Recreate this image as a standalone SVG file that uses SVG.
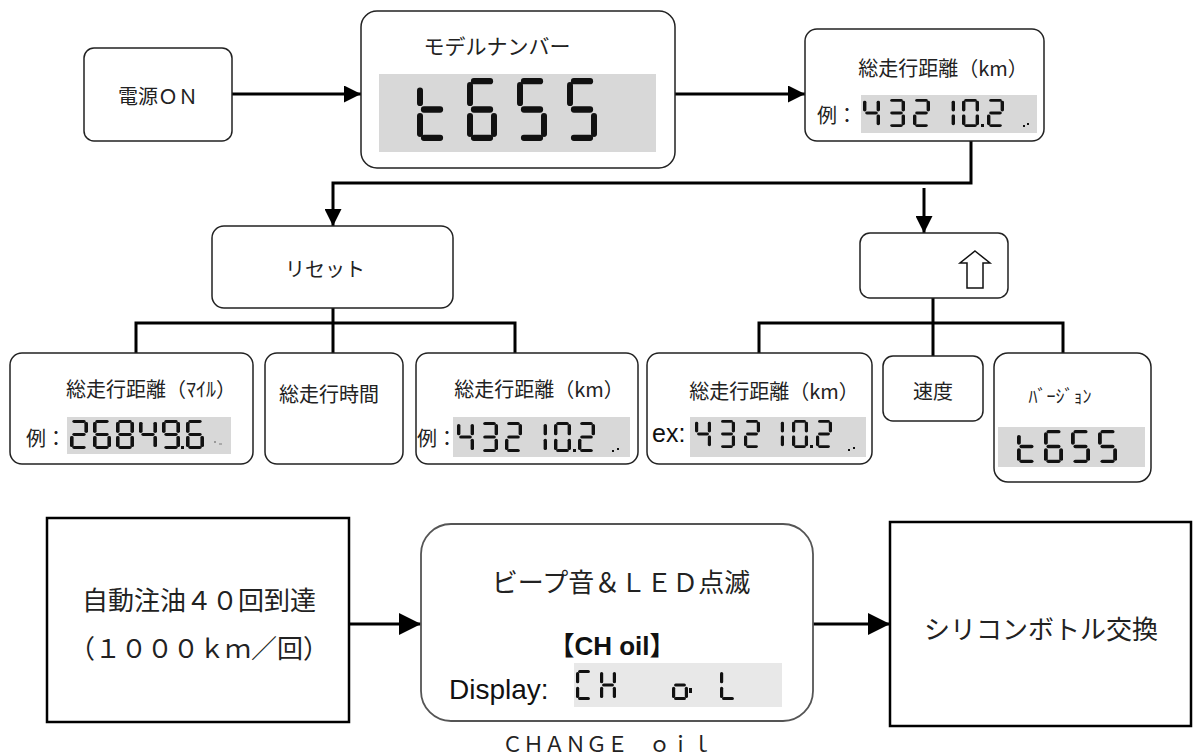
<svg xmlns="http://www.w3.org/2000/svg" width="1194" height="756" viewBox="0 0 1194 756">
<style>
.box{fill:#fff;stroke:#222;stroke-width:1.5}
.sq{fill:#fff;stroke:#000;stroke-width:2.5}
.lcd{fill:#d8d8d8}
.lcd2{fill:#e8e8e8}
.seg{fill:#111}
.wire{fill:none;stroke:#000;stroke-width:3}
.t{font-family:"Noto Sans CJK JP","Noto Sans CJK SC",sans-serif;fill:#222;dominant-baseline:central;text-anchor:middle;font-size:20px}
.big{font-size:26px}
.ar{font-family:"Liberation Sans","Noto Sans CJK JP",sans-serif;fill:#111}
</style>
<defs>
<marker id="ah" markerUnits="userSpaceOnUse" markerWidth="17" markerHeight="17" refX="17" refY="8.5" orient="auto"><path d="M0,0 L17,8.5 L0,17 z" fill="#000"/></marker>
<marker id="ahb" markerUnits="userSpaceOnUse" markerWidth="22" markerHeight="22" refX="22" refY="11" orient="auto"><path d="M0,0 L22,11 L0,22 z" fill="#000"/></marker>
<rect id="sa" x="1.3" y="0" width="7.4" height="2" rx="1"/>
<rect id="sb" x="8" y="1.3" width="2" height="7.6" rx="1"/>
<rect id="sc" x="8" y="11.1" width="2" height="7.6" rx="1"/>
<rect id="sd" x="1.3" y="18" width="7.4" height="2" rx="1"/>
<rect id="se" x="0" y="11.1" width="2" height="7.6" rx="1"/>
<rect id="sf" x="0" y="1.3" width="2" height="7.6" rx="1"/>
<rect id="sg" x="1.3" y="9" width="7.4" height="2" rx="1"/>
<rect id="sft" x="0" y="3" width="2" height="5.9" rx="1"/>
<g id="dt"><use href="#sft"/><use href="#se"/><use href="#sg"/><use href="#sd"/></g>
<g id="d0"><use href="#sa"/><use href="#sb"/><use href="#sc"/><use href="#sd"/><use href="#se"/><use href="#sf"/></g>
<g id="d1"><use href="#sb"/><use href="#sc"/></g>
<g id="d2"><use href="#sa"/><use href="#sb"/><use href="#sg"/><use href="#se"/><use href="#sd"/></g>
<g id="d3"><use href="#sa"/><use href="#sb"/><use href="#sg"/><use href="#sc"/><use href="#sd"/></g>
<g id="d4"><use href="#sf"/><use href="#sg"/><use href="#sb"/><use href="#sc"/></g>
<g id="d5"><use href="#sa"/><use href="#sf"/><use href="#sg"/><use href="#sc"/><use href="#sd"/></g>
<g id="d6"><use href="#sa"/><use href="#sf"/><use href="#sg"/><use href="#se"/><use href="#sd"/><use href="#sc"/></g>
<g id="d8"><use href="#sa"/><use href="#sb"/><use href="#sc"/><use href="#sd"/><use href="#se"/><use href="#sf"/><use href="#sg"/></g>
<g id="d9"><use href="#sa"/><use href="#sb"/><use href="#sc"/><use href="#sd"/><use href="#sf"/><use href="#sg"/></g>
<g id="dC"><use href="#sa"/><use href="#sf"/><use href="#se"/><use href="#sd"/></g>
<g id="dH"><use href="#sb"/><use href="#sc"/><use href="#se"/><use href="#sf"/><use href="#sg"/></g>
<g id="do"><use href="#sg"/><use href="#sc"/><use href="#sd"/><use href="#se"/></g>
<g id="dL"><use href="#sf"/><use href="#se"/><use href="#sd"/></g>
</defs>

<g id="connectors">
<line class="wire" x1="232" y1="94" x2="361" y2="94" marker-end="url(#ah)"/>
<line class="wire" x1="675" y1="94" x2="805" y2="94" marker-end="url(#ah)"/>
<path class="wire" d="M971,141 V183 H333 V226" marker-end="url(#ah)"/>
<path class="wire" d="M924,188 V233" marker-end="url(#ah)"/>
<path class="wire" d="M333,308 V353 M136,353 V323 H515 V353"/>
<path class="wire" d="M933,298 V356 M759,353 V323 H1063 V353"/>
<line class="wire" x1="349" y1="624" x2="421" y2="624" marker-end="url(#ahb)"/>
<line class="wire" x1="813" y1="624" x2="890" y2="624" marker-end="url(#ahb)"/>
</g>

<g id="power-on">
<rect class="box" x="84" y="48" width="148" height="93" rx="10"/>
<text class="t" x="158" y="95">電源ＯＮ</text>
</g>

<g id="model-number">
<rect class="box" x="361" y="11" width="314" height="157" rx="16"/>
<text class="t" x="497" y="45" style="font-size:21px">モデルナンバー</text>
<rect class="lcd" x="379" y="74" width="277" height="78"/>
<g class="seg">
<use href="#dt" transform="translate(417,78) scale(3,3.15)"/>
<use href="#d6" transform="translate(467,78) scale(3,3.15)"/>
<use href="#d5" transform="translate(517,78) scale(3,3.15)"/>
<use href="#d5" transform="translate(567,78) scale(3,3.15)"/>
</g>
</g>

<g id="odo-km">
<rect class="box" x="805" y="29" width="239" height="112" rx="12"/>
<text class="t" x="943" y="67">総走行距離（km）</text>
<text class="t" x="837" y="114">例：</text>
<rect class="lcd" x="861" y="95" width="176" height="38"/>
<g class="seg">
<use href="#d4" transform="translate(863,99) scale(1.7,1.4)"/>
<use href="#d3" transform="translate(888,99) scale(1.7,1.4)"/>
<use href="#d2" transform="translate(913,99) scale(1.7,1.4)"/>
<use href="#d1" transform="translate(938,99) scale(1.7,1.4)"/>
<use href="#d0" transform="translate(962,99) scale(1.7,1.4)"/>
<rect x="981" y="124" width="3" height="3"/>
<use href="#d2" transform="translate(987,99) scale(1.7,1.4)"/>
<rect x="1023" y="125" width="2" height="2"/><rect x="1027" y="123" width="2" height="2"/>
</g>
</g>

<g id="reset">
<rect class="box" x="212" y="226" width="241" height="82" rx="12"/>
<text class="t" x="325" y="268">リセット</text>
</g>

<g id="odo-mile">
<rect class="box" x="10" y="353" width="243" height="111" rx="12"/>
<text class="t" x="151" y="388">総走行距離（ﾏｲﾙ）</text>
<text class="t" x="46" y="437">例：</text>
<rect class="lcd" x="67" y="417" width="164" height="37"/>
<g class="seg">
<use href="#d2" transform="translate(70,420) scale(1.8,1.45)"/>
<use href="#d6" transform="translate(93,420) scale(1.8,1.45)"/>
<use href="#d8" transform="translate(116,420) scale(1.8,1.45)"/>
<use href="#d4" transform="translate(139,420) scale(1.8,1.45)"/>
<use href="#d9" transform="translate(162,420) scale(1.8,1.45)"/>
<rect x="181" y="446" width="3" height="3"/>
<use href="#d6" transform="translate(186,420) scale(1.8,1.45)"/>
<rect x="214" y="441" width="2" height="2" fill="#999"/><rect x="219" y="443" width="3" height="2" fill="#aaa"/>
</g>
</g>

<g id="total-time">
<rect class="box" x="265" y="353" width="138" height="111" rx="12"/>
<text class="t" x="329" y="393">総走行時間</text>
</g>

<g id="odo-km-reset">
<rect class="box" x="416" y="353" width="222" height="111" rx="12"/>
<text class="t" x="539" y="388">総走行距離（km）</text>
<text class="t" x="437" y="437">例：</text>
<rect class="lcd" x="453" y="417" width="177" height="40"/>
<g class="seg">
<use href="#d4" transform="translate(457,422) scale(1.7,1.5)"/>
<use href="#d3" transform="translate(481,422) scale(1.7,1.5)"/>
<use href="#d2" transform="translate(505,422) scale(1.7,1.5)"/>
<use href="#d1" transform="translate(530,422) scale(1.7,1.5)"/>
<use href="#d0" transform="translate(554,422) scale(1.7,1.5)"/>
<rect x="573" y="449" width="3" height="3"/>
<use href="#d2" transform="translate(578,422) scale(1.7,1.5)"/>
<rect x="612" y="450" width="2" height="2"/><rect x="617" y="448" width="2" height="2"/>
</g>
</g>

<g id="up-button">
<rect class="box" x="860" y="233" width="148" height="65" rx="10"/>
<polygon points="975,251 990,263 983,263 983,288 967,288 967,263 960,263" fill="#fff" stroke="#111" stroke-width="1.5"/>
</g>

<g id="odo-km-ex">
<rect class="box" x="647" y="353" width="225" height="111" rx="12"/>
<text class="t" x="774" y="390">総走行距離（km）</text>
<text class="ar" x="652" y="442" style="font-size:25px">ex:</text>
<rect class="lcd" x="690" y="417" width="176" height="40"/>
<g class="seg">
<use href="#d4" transform="translate(695,420) scale(1.6,1.4)"/>
<use href="#d3" transform="translate(719,420) scale(1.6,1.4)"/>
<use href="#d2" transform="translate(744,420) scale(1.6,1.4)"/>
<use href="#d1" transform="translate(768,420) scale(1.6,1.4)"/>
<use href="#d0" transform="translate(792,420) scale(1.6,1.4)"/>
<rect x="810" y="445" width="3" height="3"/>
<use href="#d2" transform="translate(816,420) scale(1.6,1.4)"/>
<rect x="848" y="449" width="2" height="2"/><rect x="853" y="447" width="2" height="2"/>
</g>
</g>

<g id="speed">
<rect class="box" x="883" y="356" width="100" height="65" rx="10"/>
<text class="t" x="933" y="390">速度</text>
</g>

<g id="version">
<rect class="box" x="994" y="353" width="157" height="129" rx="14"/>
<text class="t" x="1060" y="395" style="font-size:18px">ﾊﾞｰｼﾞｮﾝ</text>
<rect class="lcd" x="998" y="427" width="147" height="40"/>
<g class="seg">
<use href="#dt" transform="translate(1017,430) scale(1.9,1.65)"/>
<use href="#d6" transform="translate(1044,430) scale(1.9,1.65)"/>
<use href="#d5" transform="translate(1071,430) scale(1.9,1.65)"/>
<use href="#d5" transform="translate(1098,430) scale(1.9,1.65)"/>
</g>
</g>

<g id="auto-oil">
<rect class="sq" x="47" y="518" width="302" height="204"/>
<text class="t big" x="199" y="598">自動注油４０回到達</text>
<text class="t big" x="199" y="646">（１０００ｋｍ／回）</text>
</g>

<g id="beep-led">
<rect x="421" y="524" width="392" height="197" rx="30" fill="#fff" stroke="#555" stroke-width="1.8"/>
<text class="t big" x="621" y="580">ビープ音＆ＬＥＤ点滅</text>
<text class="ar" x="612" y="655" text-anchor="middle" style="font-size:26px;font-weight:bold">【CH oil】</text>
<text class="ar" x="449" y="699" style="font-size:28px">Display:</text>
<rect class="lcd2" x="574" y="663" width="208" height="44"/>
<g class="seg">
<use href="#dC" transform="translate(576,670) scale(1.6,1.5)"/>
<use href="#dH" transform="translate(600,670) scale(1.6,1.5)"/>
<use href="#do" transform="translate(672,670) scale(1.6,1.5)"/>
<rect x="689" y="688" width="3" height="5"/>
<use href="#dL" transform="translate(720,670) scale(1.6,1.5)"/>
</g>
<text class="t" x="607" y="743" style="font-size:21px">ＣＨＡＮＧＥ　ｏｉｌ</text>
</g>

<g id="replace-bottle">
<rect class="sq" x="890" y="522" width="301" height="204"/>
<text class="t big" x="1041" y="627">シリコンボトル交換</text>
</g>
</svg>
